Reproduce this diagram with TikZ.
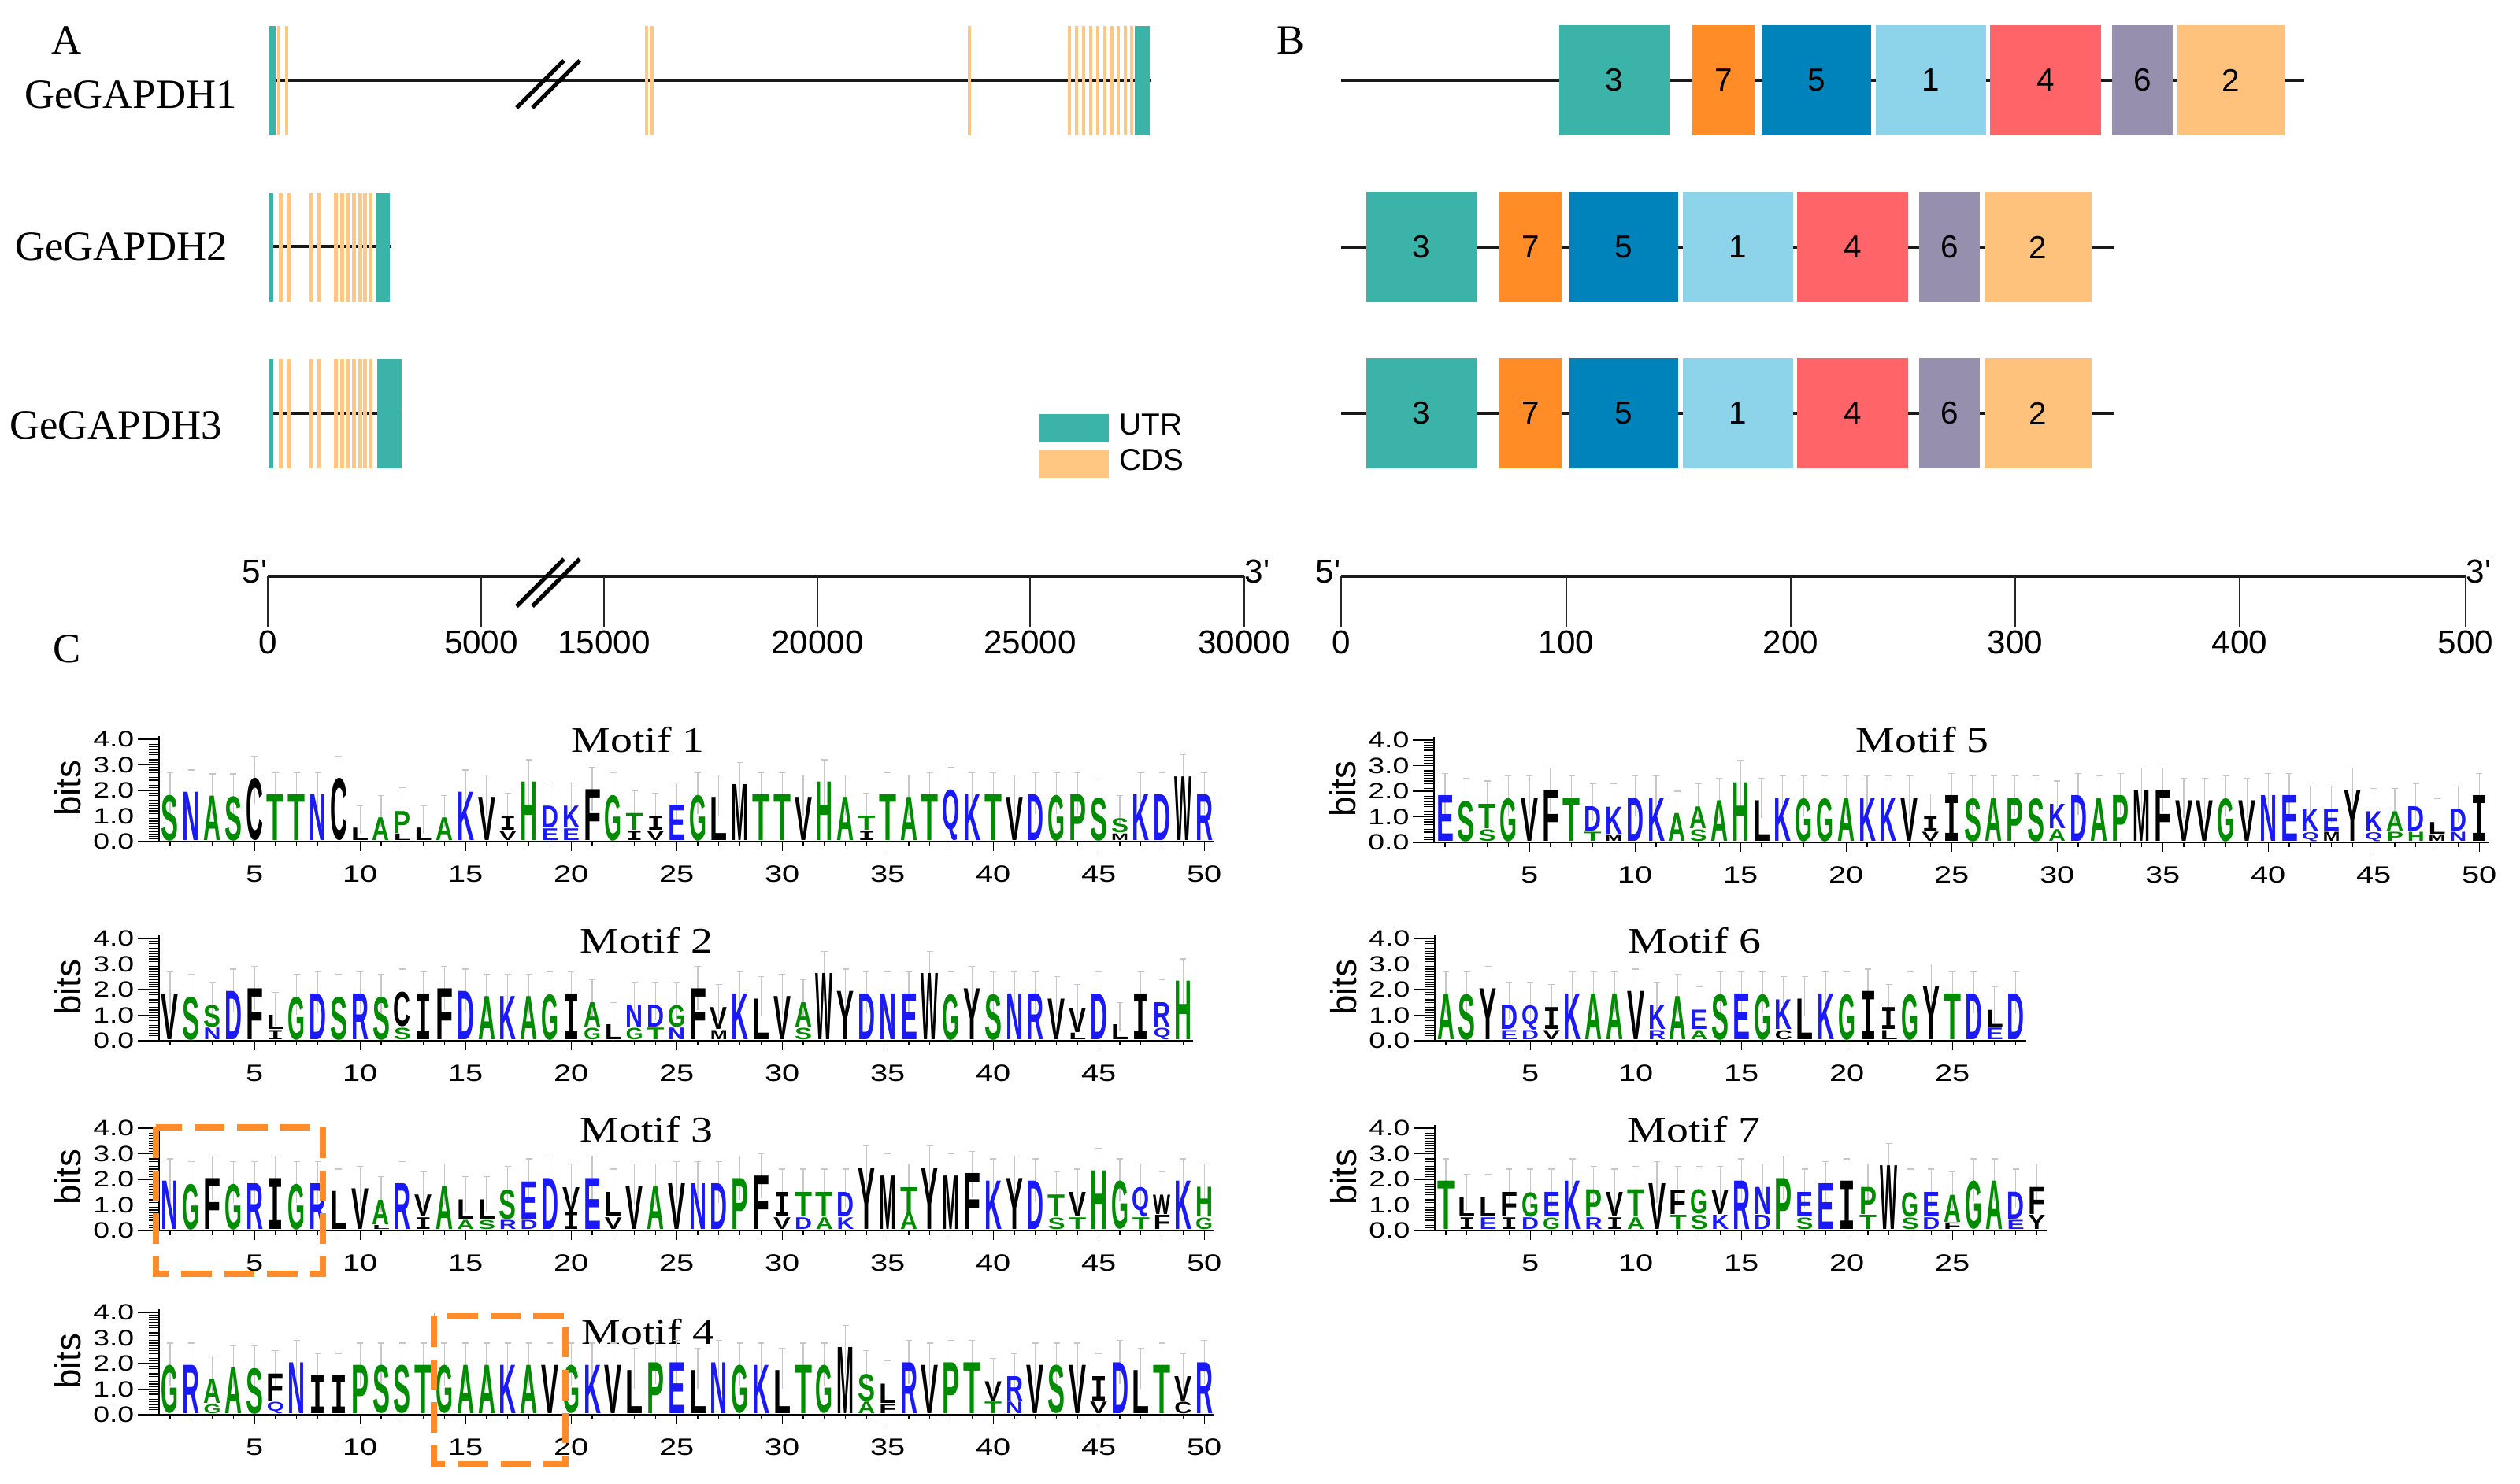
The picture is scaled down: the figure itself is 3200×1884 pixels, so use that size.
\documentclass[tikz,border=0pt]{standalone}
\usepackage{fontspec}
\setmainfont{Liberation Serif}
\setsansfont{Liberation Sans}
\newfontfamily\glyphmono{DejaVu Sans Mono}
\usepackage{graphicx}
\usetikzlibrary{positioning}

\definecolor{utrcol}{RGB}{59,179,169}
\definecolor{cdscol}{RGB}{255,199,130}
\definecolor{mthree}{RGB}{59,179,169}
\definecolor{mseven}{RGB}{255,140,38}
\definecolor{mfive}{RGB}{0,130,186}
\definecolor{mone}{RGB}{141,211,234}
\definecolor{mfour}{RGB}{255,100,105}
\definecolor{msix}{RGB}{150,143,173}
\definecolor{mtwo}{RGB}{255,194,125}
\definecolor{hlorange}{RGB}{255,140,40}
\definecolor{loggreen}{RGB}{0,140,0}
\definecolor{logblue}{RGB}{25,25,250}
% residue colours
\colorlet{aaS}{loggreen}\colorlet{aaA}{loggreen}\colorlet{aaT}{loggreen}
\colorlet{aaP}{loggreen}\colorlet{aaH}{loggreen}\colorlet{aaG}{loggreen}
\colorlet{aaN}{logblue}\colorlet{aaK}{logblue}\colorlet{aaD}{logblue}
\colorlet{aaE}{logblue}\colorlet{aaQ}{logblue}\colorlet{aaR}{logblue}
\colorlet{aaC}{black}\colorlet{aaL}{black}\colorlet{aaV}{black}\colorlet{aaF}{black}
\colorlet{aaM}{black}\colorlet{aaW}{black}\colorlet{aaI}{black}\colorlet{aaY}{black}

\newcommand{\wide}[1]{\scalebox{1.33}[1]{#1}}
\newcommand{\tstretch}[1]{\scalebox{1.22}[1]{#1}}
% the I of a logo has bars top and bottom
\newcommand{\lgl}[1]{\if#1I{\glyphmono\bfseries I}\else#1\fi}

\tikzset{
  geneline/.style={line width=1pt, draw=black!90},
  brk/.style={line width=1.5pt, draw=black},
  sctick/.style={line width=0.45pt, draw=black!85},
  sclbl/.style={font=\sffamily\fontsize{12}{14}\selectfont, inner sep=0},
  genelbl/.style={font=\fontsize{15}{18}\selectfont, inner sep=0},
  panel/.style={font=\fontsize{15}{18}\selectfont, inner sep=0},
  mbox/.style={inner sep=0, minimum height=1.39cm, font=\sffamily\fontsize{11.5}{13}\selectfont},
  legbox/.style={inner sep=0, minimum width=0.88cm, minimum height=0.355cm},
  legtxt/.style={font=\sffamily\fontsize{11}{13}\selectfont, inner sep=0},
  mtitle/.style={font=\fontsize{13}{15}\selectfont, inner sep=0},
  logoaxis/.style={line width=0.75pt},
  logotick/.style={line width=0.35pt},
  bitlbl/.style={font=\sffamily\fontsize{8}{9}\selectfont, inner sep=0},
  bitslbl/.style={font=\sffamily\fontsize{13}{15}\selectfont, inner sep=0},
  poslbl/.style={font=\sffamily\fontsize{8.5}{10}\selectfont, inner sep=0},
  errbar/.style={line width=0.35pt, draw=black!22},
  logoletter/.style={inner sep=0, anchor=south, font=\sffamily\bfseries},
  hilite/.style={draw=hlorange, line width=2.3pt, dash pattern=on 11pt off 4.5pt},
}

% #1 motif id, #2 x of column 1, #3 baseline, #4 columns, #5 top/bits/low/bits
\newcommand{\seqlogo}[5]{%
  \pgfmathsetmacro{\axx}{#2-14}
  \foreach \k in {0,...,40}{\draw[logotick] (\axx,{#3-\k*3.25}) -- ++(-13,0);}
  \foreach \k in {0,...,4}{%
    \draw[logotick] (\axx,{#3-\k*32.5}) -- ++(-27,0);
    \node[bitlbl,anchor=east] (m#1y\k) at (\axx-31,{#3-\k*32.5}) {\wide{\k.0}};
  }
  \draw[logoaxis] (\axx,#3-134) -- (\axx,#3);
  \draw[logoaxis] (\axx-27,#3) -- ({#2+(#4-1)*26.8+13},#3);
  \node[bitslbl,rotate=90] (m#1bits) at (\axx-116,#3-68) {bits};
  \foreach \i in {1,...,#4}{\draw[logotick] ({#2+(\i-1)*26.8},#3) -- ++(0,6);}
  \foreach \i in {5,10,...,#4}{%
    \draw[logotick] ({#2+(\i-1)*26.8},#3) -- ++(0,12);
    \node[poslbl] (m#1p\i) at ({#2+(\i-1)*26.8},#3+41) {\wide{\i}};
  }
  \foreach \ta/\th/\ba/\bh [count=\i] in {#5}{%
    \pgfmathsetmacro{\xx}{#2+(\i-1)*26.8}
    \pgfmathsetmacro{\tot}{\th+\bh}
    \draw[errbar] (\xx,{#3-\tot*19.5}) -- (\xx,{#3-(\tot+0.9)*32.5}) ++(-4,0) -- ++(8,0);
    \ifdim\bh pt>0pt
      \pgfmathsetmacro{\hb}{\bh*0.325-0.015}
      \node[logoletter,text=aa\ba] (m#1b\i) at (\xx,#3-0.5) {\resizebox*{0.22cm}{\hb cm}{\lgl{\ba}}};
      \pgfmathsetmacro{\hh}{\th*0.325-0.015}
    \else
      \pgfmathsetmacro{\hh}{\th*0.325-0.005}
    \fi
    \node[logoletter,text=aa\ta] (m#1t\i) at (\xx,{#3-\bh*32.5-0.5}) {\resizebox*{0.22cm}{\hh cm}{\lgl{\ta}}};
  }
}

\begin{document}
\begin{tikzpicture}[x=0.01cm,y=-0.01cm]
\useasboundingbox (0,0) rectangle (3200,1884);

% panel letters
\node[panel] (pa) at (85,51) {A};
\node[panel] (pb) at (1639,51) {B};
\node[panel] (pc) at (85,824) {C};

% ---- A: gene structures
\node[genelbl] (gl1) at (166,120) {GeGAPDH1};
\node[genelbl] (gl2) at (154,313) {GeGAPDH2};
\node[genelbl] (gl3) at (147,540) {GeGAPDH3};

\coordinate (g1s) at (342,102);
\coordinate (g1e) at (1462,102);
\draw[geneline] (g1s) -- (g1e);
\fill[utrcol] (342,33) rectangle (350,172);
\foreach \x in {352,362,819,826,1229,1356,1365,1374,1383,1392,1401,1410,1418,1427,1435}
  \fill[cdscol] (\x,33) rectangle ++(3.5,139);
\fill[utrcol] (1441,33) rectangle (1460,172);
\draw[brk] (656,137) -- (716,77);
\draw[brk] (676,137) -- (736,77);

\coordinate (g2s) at (342,313);
\coordinate (g2e) at (497,313);
\draw[geneline] (g2s) -- (g2e);
\fill[utrcol] (342,245) rectangle (347,383);
\foreach \x in {354,364,393,403,424,432,439,447,455,461,468}
  \fill[cdscol] (\x,245) rectangle ++(4.5,138);
\fill[utrcol] (477,245) rectangle (495,383);

\coordinate (g3s) at (342,525);
\coordinate (g3e) at (511,525);
\draw[geneline] (g3s) -- (g3e);
\fill[utrcol] (342,456) rectangle (347,595);
\foreach \x in {354,364,393,403,424,432,439,447,455,461,468}
  \fill[cdscol] (\x,456) rectangle ++(4.5,139);
\fill[utrcol] (479,456) rectangle (510,595);

% legend
\node[legbox,fill=utrcol] (legutr) at (1364,544) {};
\node[legbox,fill=cdscol] (legcds) at (1364,589) {};
\node[legtxt,right=0.12cm of legutr,yshift=0.05cm] (tutr) {UTR};
\node[legtxt,right=0.12cm of legcds,yshift=0.05cm] (tcds) {CDS};

% scale bar (bp)
\coordinate (sa) at (340,732);
\coordinate (sb) at (1580,732);
\draw[geneline] (sa) -- (sb);
\foreach \x/\t in {340/0,611/5000,767/15000,1038/20000,1308/25000,1580/30000}{
  \draw[sctick] (\x,732) -- (\x,797);
  \node[sclbl] (sl\t) at (\x,816) {\t};
}
\draw[brk] (656,770) -- (716,710);
\draw[brk] (676,770) -- (736,710);
\node[sclbl,anchor=east] (s5a) at (sa) [yshift=0.06cm] {5\textquotesingle};
\node[sclbl,anchor=west] (s3a) at (sb) [yshift=0.06cm] {3\textquotesingle};

% ---- B: motif positions
\foreach \r/\yy/\dx in {1/102/241,2/314/0,3/525/0}{
  \coordinate (r\r s) at (1703,\yy);
  \coordinate (r\r e) at (2685+\dx,\yy);
  \draw[geneline] (r\r s) -- (r\r e);
}
\foreach \r/\yy/\dx in {1/102/245,2/314/0,3/525/0}{
  \foreach \c/\w/\m/\col in {1805/140/3/mthree,1943.5/79/7/mseven,2062/138/5/mfive,
      2207/140/1/mone,2352.5/141/4/mfour,2475.5/77/6/msix,2588/136/2/mtwo}
    \node[mbox,fill=\col,minimum width=\w*0.01cm] (b\r m\m) at (\c+\dx,\yy) {\m};
}

% scale bar (aa)
\coordinate (ta) at (1703,732);
\coordinate (tb) at (3131,732);
\draw[geneline] (ta) -- (tb);
\foreach \x/\t in {1703/0,1989/100,2274/200,2559/300,2844/400,3131/500}{
  \draw[sctick] (\x,732) -- (\x,797);
  \node[sclbl] (tl\t) at (\x,816) {\t};
}
\node[sclbl,anchor=east] (t5a) at (ta) [yshift=0.06cm] {5\textquotesingle};
\node[sclbl,anchor=west] (t3a) at (tb) [yshift=0.06cm] {3\textquotesingle};

% ---- C: motif logos
\node[mtitle] (mt1) at (810,940) {\tstretch{Motif 1}};
\seqlogo{1}{216}{1069}{50}{S/1.8/-/0, N/1.9/-/0, A/1.75/-/0, S/1.75/-/0, C/2.45/-/0, T/1.8/-/0, T/1.8/-/0, N/1.8/-/0, C/2.45/-/0, L/0.5/-/0, A/0.9/-/0, P/0.9/L/0.3, L/0.5/-/0, A/0.9/-/0, K/1.9/-/0, V/1.7/-/0, I/0.6/V/0.4, H/2.3/-/0, D/0.9/E/0.5, K/0.9/E/0.5, F/2.0/-/0, G/1.8/-/0, T/0.7/I/0.4, I/0.6/V/0.4, E/1.4/-/0, G/1.8/-/0, L/1.7/-/0, M/2.2/-/0, T/1.8/-/0, T/1.8/-/0, V/1.7/-/0, H/2.3/-/0, A/1.7/-/0, T/0.6/I/0.4, T/1.8/-/0, A/1.7/-/0, T/1.8/-/0, Q/2.0/-/0, K/1.8/-/0, T/1.8/-/0, V/1.7/-/0, D/1.8/-/0, G/1.8/-/0, P/1.8/-/0, S/1.7/-/0, S/0.6/M/0.3, K/1.8/-/0, D/1.8/-/0, W/2.5/-/0, R/1.8/-/0}

\node[mtitle] (mt2) at (821,1195) {\tstretch{Motif 2}};
\seqlogo{2}{216}{1322}{49}{V/1.8/-/0, S/1.7/-/0, S/0.9/N/0.5, D/1.9/-/0, F/2.0/-/0, L/0.6/I/0.4, G/1.7/-/0, D/1.8/-/0, S/1.7/-/0, R/1.8/-/0, S/1.7/-/0, C/1.4/S/0.5, I/1.8/-/0, F/2.0/-/0, D/1.9/-/0, A/1.7/-/0, K/1.7/-/0, A/1.7/-/0, G/1.8/-/0, I/1.8/-/0, A/1.0/G/0.5, L/0.6/-/0, N/0.9/G/0.5, D/0.9/T/0.5, G/0.9/N/0.5, F/2.0/-/0, V/0.9/M/0.4, K/1.8/-/0, L/1.6/-/0, V/1.7/-/0, A/1.0/S/0.5, W/2.6/-/0, Y/1.9/-/0, D/1.8/-/0, N/1.8/-/0, E/1.8/-/0, W/2.6/-/0, G/1.8/-/0, Y/2.0/-/0, S/1.8/-/0, N/1.8/-/0, R/1.8/-/0, V/1.6/-/0, V/1.0/L/0.3, D/1.8/-/0, L/0.6/-/0, I/1.8/-/0, R/1.0/Q/0.5, H/2.3/-/0}

\node[mtitle] (mt3) at (821,1435) {\tstretch{Motif 3}};
\seqlogo{3}{216}{1563}{50}{N/1.9/-/0, G/1.8/-/0, F/2.0/-/0, G/1.8/-/0, R/1.8/-/0, I/2.0/-/0, G/1.8/-/0, R/1.8/-/0, L/1.5/-/0, V/1.6/-/0, A/1.0/L/0.2, R/1.8/-/0, V/0.9/I/0.5, A/1.7/-/0, L/0.8/A/0.4, L/0.8/S/0.4, S/1.2/R/0.4, E/1.5/D/0.4, D/2.0/-/0, V/1.0/I/0.7, E/2.0/-/0, L/1.0/V/0.5, V/1.7/-/0, A/1.7/-/0, V/1.8/-/0, N/1.8/-/0, D/1.8/-/0, P/2.0/-/0, F/2.1/-/0, I/1.0/V/0.5, T/1.0/D/0.5, T/1.0/A/0.5, D/1.0/K/0.5, Y/2.4/-/0, M/2.1/-/0, T/1.0/A/0.7, Y/2.4/-/0, M/2.1/-/0, F/2.2/-/0, K/1.9/-/0, Y/2.0/-/0, D/1.9/-/0, T/0.9/S/0.5, V/1.0/T/0.5, H/2.3/-/0, G/1.9/-/0, Q/1.2/T/0.5, W/0.8/F/0.6, K/1.9/-/0, H/1.2/G/0.5}
\draw[hilite] (198,1432) rectangle (410,1618);

\node[mtitle] (mt4) at (823,1692) {\tstretch{Motif 4}};
\seqlogo{4}{216}{1797}{50}{G/1.9/-/0, R/1.9/-/0, A/1.0/G/0.4, A/1.8/-/0, S/1.8/-/0, F/1.1/Q/0.5, N/2.0/-/0, I/1.5/-/0, I/1.5/-/0, P/1.9/-/0, S/1.9/-/0, S/1.9/-/0, T/1.9/-/0, G/1.9/-/0, A/1.9/-/0, A/1.9/-/0, K/1.9/-/0, A/1.9/-/0, V/1.9/-/0, G/1.9/-/0, K/1.9/-/0, V/1.9/-/0, L/1.7/-/0, P/2.0/-/0, E/2.0/-/0, L/1.7/-/0, N/2.0/-/0, G/1.9/-/0, K/1.9/-/0, L/1.7/-/0, T/1.9/-/0, G/1.9/-/0, M/2.6/-/0, S/1.1/A/0.5, L/0.8/F/0.4, R/2.0/-/0, V/1.9/-/0, P/2.0/-/0, T/2.0/-/0, V/0.8/T/0.5, R/1.0/N/0.5, V/1.9/-/0, S/1.9/-/0, V/1.9/-/0, I/1.0/V/0.5, D/2.0/-/0, L/1.7/-/0, T/1.9/-/0, V/1.0/C/0.5, R/2.0/-/0}
\draw[hilite] (551,1672) rectangle (718,1860);

\node[mtitle] (mt5) at (2441,940) {\tstretch{Motif 5}};
\seqlogo{5}{1835}{1070}{50}{E/1.8/-/0, S/1.6/-/0, T/1.0/S/0.5, G/1.7/-/0, V/1.7/-/0, F/2.0/-/0, T/1.7/-/0, D/1.0/T/0.4, K/1.1/M/0.3, D/1.7/-/0, K/1.7/-/0, A/1.1/-/0, A/0.9/S/0.5, A/1.6/-/0, H/2.3/-/0, L/1.6/-/0, K/1.7/-/0, G/1.7/-/0, G/1.7/-/0, A/1.7/-/0, K/1.7/-/0, K/1.7/-/0, V/1.7/-/0, I/0.6/V/0.4, I/1.8/-/0, S/1.7/-/0, A/1.7/-/0, P/1.7/-/0, S/1.7/-/0, K/1.0/A/0.5, D/1.8/-/0, A/1.7/-/0, P/1.8/-/0, M/2.0/-/0, F/2.0/-/0, V/1.6/-/0, V/1.6/-/0, G/1.7/-/0, V/1.6/-/0, N/1.8/-/0, E/1.8/-/0, K/0.9/Q/0.4, E/0.9/M/0.4, Y/2.0/-/0, K/0.8/Q/0.4, A/0.8/P/0.4, D/1.0/H/0.4, L/0.5/M/0.3, D/0.9/N/0.4, I/1.8/-/0}

\node[mtitle] (mt6) at (2152,1195) {\tstretch{Motif 6}};
\seqlogo{6}{1836}{1322}{28}{A/1.8/-/0, S/1.8/-/0, Y/2.0/-/0, D/1.0/E/0.4, Q/1.0/D/0.4, I/0.9/V/0.4, K/1.8/-/0, A/1.8/-/0, A/1.8/-/0, V/1.9/-/0, K/1.0/R/0.4, A/1.7/-/0, E/0.8/A/0.4, S/1.8/-/0, E/1.8/-/0, G/1.8/-/0, K/1.2/C/0.4, L/1.6/-/0, K/1.8/-/0, G/1.8/-/0, I/1.9/-/0, I/0.9/L/0.4, G/1.8/-/0, Y/2.1/-/0, T/1.8/-/0, D/1.8/-/0, L/0.7/E/0.5, D/1.8/-/0}

\node[mtitle] (mt7) at (2151,1435) {\tstretch{Motif 7}};
\seqlogo{7}{1836}{1563}{29}{T/1.9/-/0, L/0.8/I/0.5, L/0.8/E/0.5, F/1.0/I/0.5, G/1.0/D/0.5, E/1.0/G/0.5, K/1.9/-/0, P/1.1/R/0.5, V/1.0/I/0.5, T/1.1/A/0.5, V/1.8/-/0, F/1.0/T/0.6, G/1.0/S/0.6, V/1.0/K/0.6, R/1.9/-/0, N/1.1/D/0.6, P/2.0/-/0, E/1.0/S/0.5, E/1.8/-/0, I/1.9/-/0, P/1.1/T/0.6, W/2.5/-/0, G/1.0/S/0.5, E/1.0/D/0.5, A/1.1/F/0.3, G/1.9/-/0, A/1.9/-/0, D/1.1/E/0.4, F/1.1/Y/0.6}
\end{tikzpicture}
\end{document}
